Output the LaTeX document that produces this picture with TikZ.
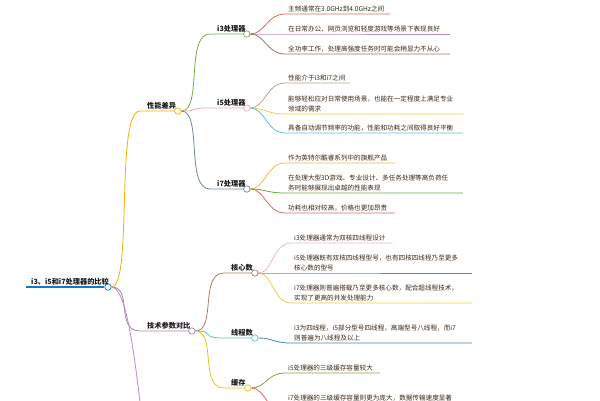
\documentclass[tikz,border=0pt]{standalone}
\usepackage{fontspec}
\newfontfamily\cjk{Noto Sans CJK SC}
\begin{document}
\begin{tikzpicture}[x=1pt,y=-1pt,
  edge/.style={line width=0.8pt},
  leaftext/.style={font=\cjk\fontsize{6.6}{9.5}\selectfont,text=black!70!brown,inner sep=1pt,align=left},
  brtext/.style={font=\cjk\bfseries\fontsize{7.2}{9}\selectfont,text=black!90,inner sep=1pt},
  dot/.style={circle,draw,fill=white,minimum size=6.5pt,inner sep=0pt,line width=0.7pt}]
\definecolor{cRoot}{RGB}{20,120,200}
\definecolor{cPerf}{RGB}{245,175,0}
\definecolor{cI3}{RGB}{120,170,70}
\definecolor{cI5}{RGB}{230,170,185}
\definecolor{cI7}{RGB}{110,135,155}
\definecolor{cTech}{RGB}{170,130,170}
\definecolor{cCore}{RGB}{160,130,100}
\definecolor{cThr}{RGB}{90,200,190}
\definecolor{cCache}{RGB}{240,190,20}
\definecolor{cRed}{RGB}{210,110,90}
\definecolor{cPur}{RGB}{180,140,200}
\definecolor{cBrn}{RGB}{160,120,90}
\definecolor{cGry}{RGB}{185,165,145}
\definecolor{cYel}{RGB}{230,210,60}
\definecolor{cTeal}{RGB}{100,190,205}
\definecolor{cYel2}{RGB}{240,190,60}
\definecolor{cGrn}{RGB}{100,170,60}
\definecolor{cPink}{RGB}{235,185,205}
\definecolor{cBlue}{RGB}{70,130,190}
\definecolor{cOlive}{RGB}{140,160,60}
\useasboundingbox (0,0) rectangle (600,400);
\clip (0,0) rectangle (600,400);
\newcommand\lf[7]{%
  \coordinate (#1s) at (#4,#5); \coordinate (#1e) at (#6,#5);
  \draw[#2,edge] (#3) .. controls +(18,0) and +(-18,0) .. (#1s) -- (#1e);
  \node[leaftext,anchor=south west] (#1) at (#4+2,#5-1) {#7};}
\newcommand\br[7]{%
  \coordinate (#1s) at (#4,#5);
  \node[dot,draw=#2] (#1c) at (#6+3.3,#5) {};
  \draw[#2,edge] (#3) .. controls +(25,0) and +(-25,0) .. (#1s) -- (#1c);
  \node[brtext,anchor=south west] (#1) at (#4+6,#5-1) {#7};}
% root
\coordinate (roots) at (26,287);
\node[dot,draw=cRoot] (rootc) at (108,287) {};
\draw[cRoot,line width=1.6pt] (roots) -- (rootc);
\node[brtext,anchor=south west] (root) at (30,286) {i3、i5和i7处理器的比较};
% branches
\br{perf}{cPerf}{rootc}{140}{111}{174.5}{性能差异}
\br{tech}{cTech}{rootc}{140}{331}{188.5}{技术参数对比}
\coordinate (third) at (150,470);
\draw[cPur,edge] (rootc) .. controls +(25,0) and +(-10,-40) .. (third);
% perf children
\br{ithree}{cI3}{perfc}{210}{34}{243.5}{i3处理器}
\br{ifive}{cI5}{perfc}{210}{108}{243.5}{i5处理器}
\br{iseven}{cI7}{perfc}{210}{189}{243.5}{i7处理器}
\lf{a1}{cRed}{ithreec}{285}{14}{390}{主频通常在3.0GHz到4.0GHz之间}
\lf{a2}{cPur}{ithreec}{285}{34}{450}{在日常办公、网页浏览和轻度游戏等场景下表现良好}
\lf{a3}{cBrn}{ithreec}{285}{54}{450}{全功率工作，处理高强度任务时可能会稍显力不从心}
\lf{b1}{cGry}{ifivec}{285}{83}{350}{性能介于i3和i7之间}
\lf{b2}{cYel}{ifivec}{285}{114}{463}{能够轻松应对日常使用场景，也能在一定程度上满足专业\\领域的需求}
\lf{b3}{cTeal}{ifivec}{285}{133}{463}{具备自动调节频率的功能，性能和功耗之间取得良好平衡}
\lf{c1}{cYel2}{isevenc}{285}{163}{395}{作为英特尔酷睿系列中的旗舰产品}
\lf{c2}{cGrn}{isevenc}{285}{193}{463}{在处理大型3D游戏、专业设计、多任务处理等高负荷任\\务时能够展现出卓越的性能表现}
\lf{c3}{cRed}{isevenc}{285}{213}{395}{功耗也相对较高，价格也更加昂贵}
% tech children
\br{core}{cCore}{techc}{224}{273}{251.5}{核心数}
\br{thr}{cThr}{techc}{224}{338}{251.5}{线程数}
\br{cache}{cCache}{techc}{224}{388}{244.5}{缓存}
\lf{d1}{cPink}{corec}{291}{243}{393}{i3处理器通常为双核四线程设计}
\lf{d2}{cBrn}{corec}{291}{273}{472}{i5处理器既有双核四线程型号，也有四核四线程乃至更多\\核心数的型号}
\lf{d3}{cYel}{corec}{291}{303}{472}{i7处理器则普遍搭载乃至更多核心数，配合超线程技术，\\实现了更高的并发处理能力}
\lf{e1}{cBlue}{thrc}{291}{343}{472}{i3为四线程，i5部分型号四线程，高端型号八线程，而i7\\则普遍为八线程及以上}
\lf{f1}{cOlive}{cachec}{285}{373}{380}{i5处理器的三级缓存容量较大}
\lf{f2}{cRed}{cachec}{285}{413}{472}{i7处理器的三级缓存容量则更为庞大，数据传输速度显著\\提升}
\end{tikzpicture}
\end{document}
